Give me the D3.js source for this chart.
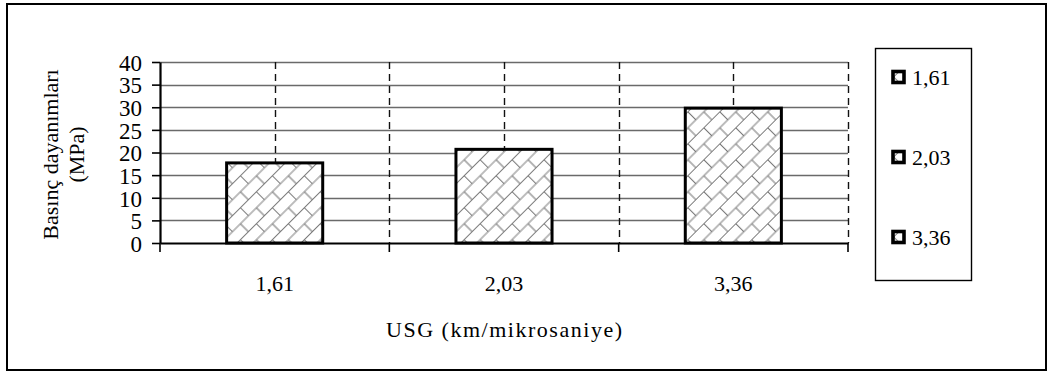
<!DOCTYPE html>
<html>
<head>
<meta charset="utf-8">
<script src="https://cdn.jsdelivr.net/npm/d3@7"></script>
<style>
  html, body { margin: 0; padding: 0; background: #fff; }
  svg { display: block; }
  svg text { font-family: "Liberation Serif", "Times New Roman", serif !important; fill: #000; }
</style>
</head>
<body>
<svg id="chart" width="1053" height="372"></svg>
<script>
// Compressive strength by ultrasonic pulse velocity
const categories = ["1,61", "2,03", "3,36"];
const strengths = [17.7, 20.7, 29.8];
const yTicks = [0, 5, 10, 15, 20, 25, 30, 35, 40];
const xTitle = "USG (km/mikrosaniye)";
const yTitleLines = ["Basınç dayanımları", "(MPa)"];

const svg = d3.select("#chart");

// diagonal brick hatch used by bars and legend keys
const defs = svg.append("defs");
const B = 11.3; // brick height in the rotated frame
const pat = defs.append("pattern")
  .attr("id", "brick")
  .attr("patternUnits", "userSpaceOnUse")
  .attr("width", 2 * B).attr("height", 2 * B)
  .attr("patternTransform", "rotate(-45)");
pat.append("rect").attr("width", 2 * B).attr("height", 2 * B).attr("fill", "#fff");
pat.append("path")
  .attr("d", `M0,0.5H${2 * B}M0,${B + 0.5}H${2 * B}M0.5,0.5V${B + 0.5}M${B + 0.5},${B + 0.5}V${2 * B}`)
  .attr("stroke", "#7a7a7a").attr("stroke-width", 1.1).attr("fill", "none");

// outer frame
svg.append("rect")
  .attr("x", 7).attr("y", 4).attr("width", 1039).attr("height", 366)
  .attr("fill", "none").attr("stroke", "#000").attr("stroke-width", 2);

const plot = { left: 160, right: 848, top: 62, bottom: 243 };

const x = d3.scaleBand()
  .domain(categories)
  .range([plot.left, plot.right])
  .paddingInner(0.581)
  .paddingOuter(0.2905);

const y = d3.scaleLinear()
  .domain([0, 40])
  .range([plot.bottom, plot.top]);

const step = x.step();

// horizontal gridlines
svg.append("g")
  .selectAll("line")
  .data(yTicks.filter(d => d > 0))
  .join("line")
  .attr("x1", plot.left).attr("x2", plot.right)
  .attr("y1", d => Math.round(y(d)) + 0.5).attr("y2", d => Math.round(y(d)) + 0.5)
  .attr("stroke", "#6a6a6a").attr("stroke-width", 1.3);

// vertical dashed gridlines at category centres and boundaries
const vLines = [];
categories.forEach((c, i) => {
  vLines.push(x(c) + x.bandwidth() / 2);
  vLines.push(plot.left + (i + 1) * step);
});
svg.append("g")
  .selectAll("line")
  .data(vLines)
  .join("line")
  .attr("x1", d => Math.round(d) + 0.5).attr("x2", d => Math.round(d) + 0.5)
  .attr("y1", plot.top).attr("y2", plot.bottom)
  .attr("stroke", "#111").attr("stroke-width", 1.4)
  .attr("stroke-dasharray", "7,5");

// bars
svg.append("g")
  .selectAll("rect")
  .data(categories.map((c, i) => ({ c, v: strengths[i] })))
  .join("rect")
  .attr("x", d => x(d.c))
  .attr("y", d => y(d.v))
  .attr("width", x.bandwidth())
  .attr("height", d => y(0) - y(d.v))
  .attr("fill", "url(#brick)")
  .attr("stroke", "#000").attr("stroke-width", 3);

// y axis
const yAxis = svg.append("g")
  .attr("transform", `translate(${plot.left},0)`)
  .call(d3.axisLeft(y).tickValues(yTicks).tickSize(8).tickPadding(10).tickSizeOuter(0));
yAxis.select(".domain").attr("stroke", "#000").attr("stroke-width", 2.2);
yAxis.selectAll(".tick line").attr("stroke", "#000").attr("stroke-width", 1.6);
yAxis.selectAll(".tick text")
  .attr("font-size", 23)
  .attr("dy", "0.36em");

// x axis: category labels, with boundary ticks
const xAxis = svg.append("g")
  .attr("transform", `translate(0,${plot.bottom})`)
  .call(d3.axisBottom(x).tickSize(0).tickPadding(32).tickSizeOuter(0));
xAxis.select(".domain").attr("stroke", "#000").attr("stroke-width", 2.2);
xAxis.selectAll(".tick text")
  .attr("font-size", 22);
svg.append("g")
  .selectAll("line")
  .data(d3.range(categories.length + 1).map(i => plot.left + i * step))
  .join("line")
  .attr("x1", d => d).attr("x2", d => d)
  .attr("y1", plot.bottom).attr("y2", plot.bottom + 9)
  .attr("stroke", "#000").attr("stroke-width", 1.6);

// axis titles
svg.append("text")
  .attr("x", (plot.left + plot.right) / 2)
  .attr("y", 337)
  .attr("text-anchor", "middle")
  .attr("font-size", 22)
  .attr("textLength", 236)
  .attr("lengthAdjust", "spacing")
  .text(xTitle);

const yt = svg.append("text")
  .attr("transform", `translate(58,${(plot.top + plot.bottom) / 2 + 2}) rotate(-90)`)
  .attr("text-anchor", "middle")
  .attr("font-size", 22);
yTitleLines.forEach((t, i) => {
  yt.append("tspan").attr("x", 0).attr("dy", i === 0 ? 0 : 26).text(t);
});

// legend
const legend = svg.append("g");
legend.append("rect")
  .attr("x", 875.5).attr("y", 48.5).attr("width", 96).attr("height", 232)
  .attr("fill", "#fff").attr("stroke", "#000").attr("stroke-width", 1.4);
const item = legend.selectAll("g.item")
  .data(categories)
  .join("g")
  .attr("class", "item")
  .attr("transform", (d, i) => `translate(893,${77 + i * 80})`);
item.append("rect")
  .attr("x", 0).attr("y", -5.5).attr("width", 11).attr("height", 11)
  .attr("fill", "url(#brick)").attr("stroke", "#000").attr("stroke-width", 3.6);
item.append("text")
  .attr("x", 19).attr("y", 0).attr("dy", "0.35em")
  .attr("font-size", 22)
  .text(d => d);
</script>
</body>
</html>
